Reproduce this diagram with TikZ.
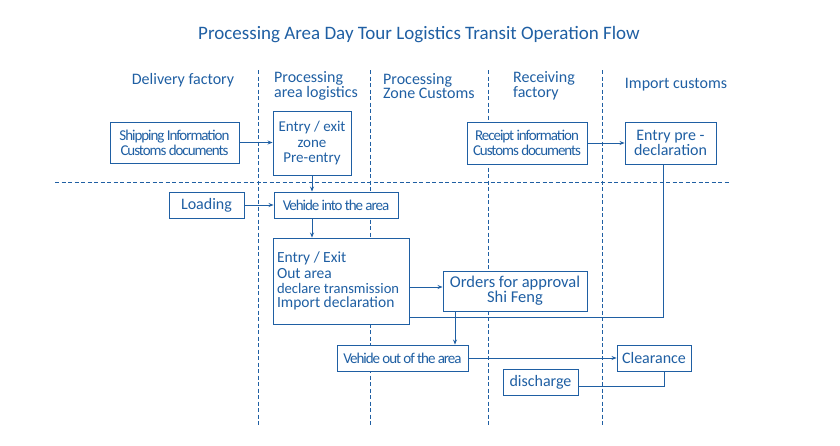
\documentclass[tikz,border=0pt]{standalone}
\usepackage{fontspec}
\setmainfont{Carlito}
\usetikzlibrary{arrows.meta,positioning}
\definecolor{azul}{HTML}{1F5FA3}
\newcommand{\apretado}{\fontsize{15}{15}\selectfont\addfontfeatures{LetterSpace=-7}}
\tikzset{
  carril/.style={draw=azul,line width=0.8pt,dash pattern=on 4pt off 2.5pt},
  caja/.style={rectangle,draw=azul,fill=white,line width=0.9pt,inner sep=1pt,align=center,text=azul,font=\fontsize{16}{15}\selectfont},
  cabecera/.style={text=azul,align=left,inner sep=0pt,font=\fontsize{16}{14.5}\selectfont},
  flecha/.style={draw=azul,line width=0.8pt,-{Stealth[length=5pt,width=4pt]}},
  linea/.style={draw=azul,line width=0.8pt},
}

\begin{document}
\begin{tikzpicture}[x=1pt,y=-1pt]
\useasboundingbox (0,0) rectangle (840,445);
% title and lane headers
\node[cabecera,font=\fontsize{19}{20}\selectfont] (titulo) at (419,35) {Processing Area Day Tour Logistics Transit Operation Flow};
\node[cabecera] (h1) at (183,80) {Delivery factory};
\node[cabecera,anchor=west] (h2) at (274,86) {Processing\\area logistics};
\node[cabecera,anchor=west] (h3) at (383,86) {Processing\\Zone Customs};
\node[cabecera,anchor=west] (h4) at (513,86) {Receiving\\factory};
\node[cabecera] (h5) at (676,85) {Import customs};
% lanes
\foreach \x in {258,370,488,602}
  \draw[carril] (\x,70) -- (\x,425);
\draw[carril] (55,182) -- (730,182);
% boxes
\node[caja,minimum width=129,minimum height=41,font=\apretado] (envio) at (174.5,142.5) {Shipping Information\\Customs documents};
\node[caja,minimum width=78,minimum height=64,font=\fontsize{15}{15.5}\selectfont] (zona) at (312,143) {Entry / exit\\zone\\Pre-entry};
\node[caja,minimum width=75,minimum height=26] (carga) at (206.5,205) {Loading};
\node[caja,minimum width=124,minimum height=26,font=\apretado] (entrada) at (336,205) {Vehide into the area};
\node[caja,minimum width=120,minimum height=42,font=\apretado] (recibo) at (527,143) {Receipt information\\Customs documents};
\node[caja,minimum width=91,minimum height=42] (predecl) at (670.5,143) {Entry pre -\\declaration};
\node[caja,minimum width=136,minimum height=86,text width=128,align=flush left,font=\fontsize{15.5}{16}\selectfont] (salidadecl) at (341,281)
  {Entry / Exit\\Out area\\[-1pt]{\fontsize{14.6}{13}\selectfont declare transmission}\\[-2pt]Import declaration\\[9pt]};
\node[caja,minimum width=144,minimum height=40,font=\fontsize{16.5}{14}\selectfont] (ordenes) at (515,291) {Orders for approval\\Shi Feng};
\node[caja,minimum width=131,minimum height=26,font=\apretado] (salida) at (402.5,358) {Vehide out of the area};
\node[caja,minimum width=74,minimum height=26] (despacho) at (654,358) {Clearance};
\node[caja,minimum width=75,minimum height=26] (descarga) at (540.5,382) {discharge};
% connectors
\draw[flecha] (envio.east) -- (envio.east -| zona.west);
\draw[flecha] (zona.south) -- (zona.south |- entrada.north);
\draw[flecha] (carga) -- (entrada);
\draw[flecha] (zona.south |- entrada.south) -- (zona.south |- salidadecl.north);
\draw[flecha] (recibo) -- (predecl);
\draw[linea] ([xshift=-7pt]predecl.south) |- ([yshift=7pt]salidadecl.south east);
\draw[flecha] ([yshift=-6pt]salidadecl.east) -- ([yshift=-6pt]salidadecl.east -| ordenes.west);
\draw[flecha] ([xshift=-60pt]ordenes.south) -- ([xshift=-60pt]ordenes.south |- salida.north);
\draw[flecha] (salida) -- (despacho);
\draw[linea] ([yshift=-4pt]descarga.east) -| ([xshift=10pt]despacho.south);
\end{tikzpicture}
\end{document}
